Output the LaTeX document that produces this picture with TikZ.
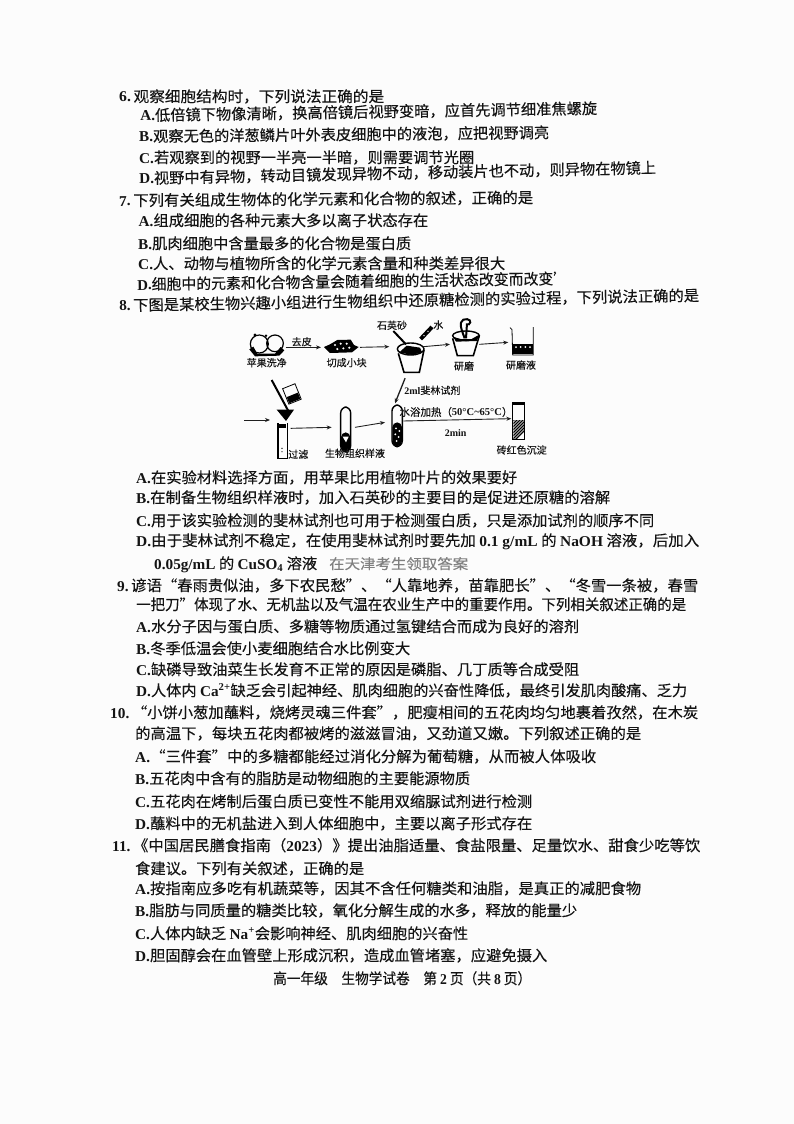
\documentclass[tikz,border=0pt]{standalone}
\usepackage{fontspec}
\usepackage{graphicx}
\setmainfont{Noto Sans CJK SC}[FakeBold=0.25]
\newfontfamily\latb{Liberation Serif}[BoldFont={Liberation Serif Bold}]
\newcommand{\lat}[1]{{\latb\bfseries #1}}
\newcounter{tlc}
% x, y, angle, x of the line's end, text
\newcommand{\tl}[5]{\stepcounter{tlc}\pgfmathsetlengthmacro{\tlw}{(#4-#1)*1pt}\node[tline,rotate=#3] (line\thetlc) at (#1,#2) {\resizebox{\tlw}{\height}{#5}};}
\tikzset{
 tline/.style={anchor=west,inner sep=0pt,yshift=-1.5pt,text=black!92,font=\fontsize{15}{15}\selectfont,text height=11pt,text depth=2pt},
 lab/.style={inner sep=0pt,font=\fontsize{10}{10}\selectfont,text=black!92},
 icon/.style={inner sep=0pt,outer sep=0pt},
 flow/.style={draw=black!88,line width=0.9pt,-{Stealth[length=5pt,width=4pt]}},
 ink/.style={draw=black,line width=0.8pt}
}
\usetikzlibrary{arrows.meta}
\begin{document}
\begin{tikzpicture}[x=1pt,y=-1pt]
\useasboundingbox (0,0) rectangle (794,1124);
\fill[white!99!black] (0,0) rectangle (794,1124);
\tl{119}{96}{0}{384}{\lat{6.}\,观察细胞结构时，下列说法正确的是}
\tl{140}{115}{0.9}{597}{\lat{A.}低倍镜下物像清晰，换高倍镜后视野变暗，应首先调节细准焦螺旋}
\tl{139}{136}{0.55}{549}{\lat{B.}观察无色的洋葱鳞片叶外表皮细胞中的液泡，应把视野调亮}
\tl{139}{157}{0}{474}{\lat{C.}若观察到的视野一半亮一半暗，则需要调节光圈}
\tl{139}{178}{1.2}{656}{\lat{D.}视野中有异物，转动目镜发现异物不动，移动装片也不动，则异物在物镜上}
\tl{119}{200}{0.4}{533}{\lat{7.}\,下列有关组成生物体的化学元素和化合物的叙述，正确的是}
\tl{138.5}{220}{0}{428}{\lat{A.}组成细胞的各种元素大多以离子状态存在}
\tl{138}{243}{0}{411}{\lat{B.}肌肉细胞中含量最多的化合物是蛋白质}
\tl{138}{263}{0}{505}{\lat{C.}人、动物与植物所含的化学元素含量和种类差异很大}
\tl{137}{284}{0.8}{568}{\lat{D.}细胞中的元素和化合物含量会随着细胞的生活状态改变而改变'}
\tl{119}{305}{1.0}{699}{\lat{8.}\,下图是某校生物兴趣小组进行生物组织中还原糖检测的实验过程，下列说法正确的是}

% experiment figure (coordinates in 3x crop pixels)
\begin{scope}[shift={(220,315)},scale=1/3]
\node[icon,minimum width=35.7pt,minimum height=23pt] (apple) at (143.5,97) {};
\node[icon,minimum width=39pt,minimum height=20pt] (chunks) at (361.5,97) {};
\node[icon,minimum width=34pt,minimum height=63pt] (mortarA) at (559,95) {};
\node[icon,minimum width=29.3pt,minimum height=20pt] (mortarB) at (734,88) {};
\node[icon,minimum width=26.7pt,minimum height=20pt] (beaker) at (905,82) {};
\coordinate (start) at (72,315);
\node[icon,minimum width=24pt,minimum height=8pt] (funnel) at (186,315) {};
\node[icon,minimum width=14pt,minimum height=8pt] (ftube) at (191,340) {};
\node[icon,minimum width=23.3pt,minimum height=20pt] (tubeB) at (370,337) {};
\node[icon,minimum width=18.3pt,minimum height=38pt] (tubeC) at (522.5,322) {};
\node[icon,minimum width=14pt,minimum height=38pt] (tubeD) at (895,312) {};
% apples
\draw[ink,line width=1.2pt] (118,87) circle (27) (165,85) circle (25);
\fill (88,103) -- (100,95) -- (112,116) -- (165,116) -- (182,96) -- (193,106) -- (178,122) -- (105,124) -- cycle;
\fill (105,60) circle (5) (138,62) circle (4);
% chunks
\fill (312,96) -- (330,88) -- (352,75) -- (392,74) -- (402,90) -- (416,96) -- (396,112) -- (330,114) -- cycle;
\foreach \i/\j in {345/90,362/86,380/86,352/102,370/100,388/98}{\fill[white] (\i,\j) circle (3.5);}
% mortar 1
\draw[ink,line width=1.6pt] (535,115) -- (552,172) -- (598,172) -- (612,105);
\draw[ink,line width=1.4pt] (572,102) ellipse (40 and 18);
\fill (538,112) -- (560,92) -- (600,98) -- (606,112) -- (575,120) -- cycle;
\draw[draw=black,line width=2pt] (520,48) -- (558,88);
\draw[draw=black,line width=4pt] (602,72) -- (636,36);
\fill[white] (612,62) circle (2.2) (624,49) circle (2.2);
% mortar 2
\draw[ink,line width=1.6pt] (698,70) -- (712,122) -- (760,122) -- (778,62);
\draw[ink,line width=1.4pt] (738,62) ellipse (40 and 14);
\fill (700,66) -- (722,72) -- (755,72) -- (776,60) -- (770,78) -- (708,80) -- cycle;
\draw[draw=black,line width=2pt] (734,70) .. controls (725,45) and (715,22) .. (730,14) .. controls (748,8) and (758,20) .. (745,30);
\draw[draw=black,line width=2pt] (738,70) -- (741,25);
% beaker
\draw[ink] (870,38) -- (876,44) -- (878,120) -- (940,120) -- (940,36);
\fill (880,88) rectangle (938,116);
\foreach \i in {888,902,916,930}{\fill[white] (\i,96) circle (3);}
% funnel and poured beaker
\draw[draw=black,line width=2pt] (155,195) -- (205,288);
\draw[ink,rotate around={22:(215,235)}] (195,212) rectangle (235,262);
\fill[rotate around={22:(215,235)}] (197,240) rectangle (233,260);
\fill (170,284) -- (222,284) -- (198,318) -- cycle;
% filter tube
\draw[ink,line width=1.2pt] (174,325) -- (174,430) -- (202,430) -- (202,325);
\fill (178,326) rectangle (198,340);
\fill (186,400) circle (2) (186,410) circle (2);
% tube 2
\draw[ink,line width=1.4pt,rounded corners=6] (362,276) -- (362,410) -- (392,410) -- (392,276) -- cycle;
\fill[rounded corners=5] (363,352) -- (363,409) -- (391,409) -- (391,352) -- cycle;
\fill[white] (368,365) -- (386,365) -- (378,382) -- cycle;
% tube 3
\draw[ink,line width=1.4pt,rounded corners=6] (516,270) -- (516,395) -- (547,395) -- (547,270) -- cycle;
\fill[rounded corners=5] (517,322) -- (517,394) -- (546,394) -- (546,322) -- cycle;
\foreach \i/\j in {528/340,538/348,526/358,536/366,530/378}{\fill[white] (\i,\j) circle (3.2);}
% tube 4
\draw[ink,line width=1.6pt] (878,264) -- (878,374) -- (914,374) -- (914,264) -- cycle;
\fill[black] (878,264) rectangle (914,270);
\begin{scope}
\clip (880,316) rectangle (912,372);
\foreach \k in {0,9,...,90}{\draw[black,line width=1.3pt] (870,300+\k) -- (920,250+\k);}
\end{scope}
% connectors
\draw[flow] (apple.east) -- (chunks.west);
\draw[flow] (chunks.east) -- (mortarA.west);
\draw[flow] (mortarA.east) -- (mortarB.west);
\draw[flow] (mortarB.east) -- (beaker.west);
\draw[flow] (start) -- (funnel.west);
\draw[flow] (ftube.east) -- (tubeB.west);
\draw[flow] (tubeB.east) -- (tubeC.west);
\draw[flow] ([yshift=4pt]tubeC.east) -- ([yshift=1pt]tubeD.west);
\draw[flow,line width=1.3pt] ([xshift=-3.7pt]mortarA.south) -- ([xshift=2.5pt]tubeC.north);
% labels
\node[lab] (l1) at (140,143) {苹果洗净};
\node[lab] (l2) at (245,80) {去皮};
\node[lab] (l3) at (380,143) {切成小块};
\node[lab] (l4) at (516,31) {石英砂};
\node[lab] (l5) at (655,30) {水};
\node[lab] (l6) at (732,153) {研磨};
\node[lab] (l7) at (903,150) {研磨液};
\node[lab] (l8) at (637,226) {\lat{2ml}斐林试剂};
\node[lab,font=\fontsize{10.5}{10.5}\selectfont] (l9) at (708,291) {水浴加热（\lat{50°C\textasciitilde65°C}）};
\node[lab] (l10) at (707,355) {\lat{2min}};
\node[lab] (l11) at (235,418) {过滤};
\node[lab] (l12) at (405,415) {生物组织样液};
\node[lab] (l13) at (905,405) {砖红色沉淀};
\end{scope}

\tl{136}{477}{0}{517}{\lat{A.}在实验材料选择方面，用苹果比用植物叶片的效果要好}
\tl{136}{497}{0}{610}{\lat{B.}在制备生物组织样液时，加入石英砂的主要目的是促进还原糖的溶解}
\tl{136}{520}{0}{654}{\lat{C.}用于该实验检测的斐林试剂也可用于检测蛋白质，只是添加试剂的顺序不同}
\tl{136}{540}{0}{699}{\lat{D.}由于斐林试剂不稳定，在使用斐林试剂时要先加 \lat{0.1 g/mL} 的 \lat{NaOH} 溶液，后加入}
\tl{154}{563}{0}{317}{\lat{0.05g/mL} 的 \lat{CuSO\textsubscript{4}} 溶液}
\node[tline,text=black!50,font=\fontsize{14}{14}\selectfont] (mark) at (329,563) {\resizebox{139pt}{\height}{在天津考生领取答案}};
\tl{117}{585}{0}{698}{\lat{9.}\,谚语“春雨贵似油，多下农民愁”、“人靠地养，苗靠肥长”、“冬雪一条被，春雪}
\tl{136}{604}{0}{686}{一把刀”体现了水、无机盐以及气温在农业生产中的重要作用。下列相关叙述正确的是}
\tl{136}{626}{0}{579}{\lat{A.}水分子因与蛋白质、多糖等物质通过氢键结合而成为良好的溶剂}
\tl{136}{648}{0}{410}{\lat{B.}冬季低温会使小麦细胞结合水比例变大}
\tl{136}{669}{0}{579}{\lat{C.}缺磷导致油菜生长发育不正常的原因是磷脂、几丁质等合成受阻}
\tl{136}{690}{0}{687}{\lat{D.}人体内 \lat{Ca\textsuperscript{2+}}缺乏会引起神经、肌肉细胞的兴奋性降低，最终引发肌肉酸痛、乏力}
\tl{110}{712}{0}{698}{\lat{10.}\,“小饼小葱加蘸料，烧烤灵魂三件套”，肥瘦相间的五花肉均匀地裹着孜然，在木炭}
\tl{135}{733}{0}{641}{的高温下，每块五花肉都被烤的滋滋冒油，又劲道又嫩。下列叙述正确的是}
\tl{135}{756}{0}{596}{\lat{A.}“三件套”中的多糖都能经过消化分解为葡萄糖，从而被人体吸收}
\tl{135}{778}{0}{470}{\lat{B.}五花肉中含有的脂肪是动物细胞的主要能源物质}
\tl{135}{801}{0}{532}{\lat{C.}五花肉在烤制后蛋白质已变性不能用双缩脲试剂进行检测}
\tl{135}{823}{0}{532}{\lat{D.}蘸料中的无机盐进入到人体细胞中，主要以离子形式存在}
\tl{112}{845}{0}{700}{\lat{11.}\,《中国居民膳食指南（\lat{2023}）》提出油脂适量、食盐限量、足量饮水、甜食少吃等饮}
\tl{135}{868}{0}{364}{食建议。下列有关叙述，正确的是}
\tl{135}{888}{0}{641}{\lat{A.}按指南应多吃有机蔬菜等，因其不含任何糖类和油脂，是真正的减肥食物}
\tl{135}{910}{0}{577}{\lat{B.}脂肪与同质量的糖类比较，氧化分解生成的水多，释放的能量少}
\tl{135}{933}{0}{468}{\lat{C.}人体内缺乏 \lat{Na\textsuperscript{+}}会影响神经、肌肉细胞的兴奋性}
\tl{135}{955}{0}{547}{\lat{D.}胆固醇会在血管壁上形成沉积，造成血管堵塞，应避免摄入}
\tl{273}{978}{0}{531}{高一年级\quad 生物学试卷\quad 第 \lat{2} 页（共 \lat{8} 页）}
\end{tikzpicture}
\end{document}
